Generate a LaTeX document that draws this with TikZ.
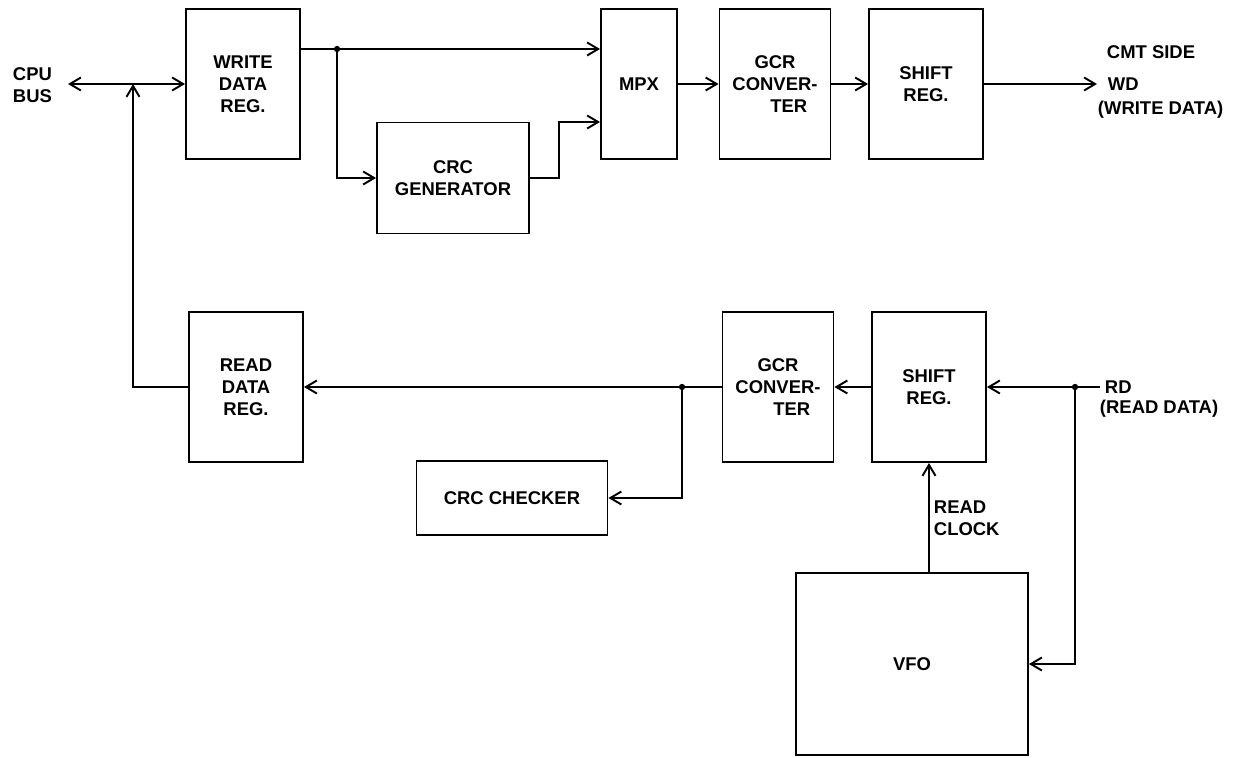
\documentclass[tikz,border=0pt]{standalone}
\usepackage{fontspec}
\setsansfont{Liberation Sans}
\usetikzlibrary{arrows.meta}

\begin{document}
\begin{tikzpicture}[x=0.02cm,y=-0.02cm,
  line width=1.1pt,
  >={Straight Barb[length=2.2mm,width=2.6mm]},
  every node/.style={font=\sffamily\bfseries\fontsize{10.5}{12.5}\selectfont},
  block/.style={draw,line width=1.1pt,align=center,inner sep=0pt},
  tall/.style={block,minimum height=3cm},
  lbl/.style={anchor=west,align=left,inner sep=0pt}]
\useasboundingbox (0,0) rectangle (1257,757);

% write side
\node[tall,minimum width=2.28cm] (wdr) at (243,84) {WRITE\\DATA\\REG.};
\node[block,minimum width=3.04cm,minimum height=2.22cm] (crcgen) at (453,178) {CRC\\GENERATOR};
\node[tall,minimum width=1.52cm] (mpx) at (639,84) {MPX};
\node[tall,minimum width=2.22cm] (gcrw) at (775,84) {GCR\\CONVER-\\\hphantom{CO}TER};
\node[tall,minimum width=2.28cm] (shw) at (926,84) {SHIFT\\REG.};

% read side
\node[tall,minimum width=2.28cm] (rdr) at (246,387) {READ\\DATA\\REG.};
\node[block,minimum width=3.82cm,minimum height=1.48cm] (crcchk) at (512,498) {CRC CHECKER};
\node[tall,minimum width=2.22cm] (gcrr) at (778,387) {GCR\\CONVER-\\\hphantom{CO}TER};
\node[tall,minimum width=2.28cm] (shr) at (929,387) {SHIFT\\REG.};
\node[block,minimum width=4.64cm,minimum height=3.64cm] (vfo) at (912,664) {VFO};

\coordinate (bus) at (68,84);
\coordinate (j1) at (133,84);
\coordinate (d1) at (337,49);
\coordinate (k1) at (559,122);
\coordinate (wd) at (1097,84);
\coordinate (rd) at (1100,387);
\coordinate (d2) at (1075,387);
\coordinate (d3) at (682,387);

\node[lbl] (cpu) at (12,85) {CPU\\BUS};
\node[lbl] (cmt) at (1106,52) {CMT SIDE};
\node[lbl] (wdl) at (1107,84) {WD};
\node[lbl] (wdl2) at (1097,110) {(WRITE DATA)};
\node[lbl] (rdl) at (1104,387) {RD};
\node[lbl] (rdl2) at (1099,409) {(READ DATA)};
\node[lbl] (clk) at (933,518) {READ\\CLOCK};

% connectors
\draw[<->] (bus) -- (wdr.west);
\draw[->] (rdr.west) -| (j1);
\draw (wdr.east |- d1) -- (d1);
\draw[->] (d1) -- (mpx.west |- d1);
\draw[->] (d1) |- (crcgen.west);
\draw[->] (crcgen.east) -| (k1) -- (mpx.west |- k1);
\draw[->] (mpx.east) -- (gcrw.west);
\draw[->] (gcrw.east) -- (shw.west);
\draw[->] (shw.east) -- (wd);

\draw (rd) -- (d2);
\draw[->] (d2) -- (shr.east);
\draw[->] (shr.west) -- (gcrr.east);
\draw[->] (gcrr.west) -- (rdr.east);
\draw[->] (d3) |- (crcchk.east);
\draw[->] (vfo.north -| shr.south) -- (shr.south);
\draw[->] (d2) |- (vfo.east);

\fill (d1) circle (1.8pt);
\fill (d2) circle (1.8pt);
\fill (d3) circle (1.8pt);
\end{tikzpicture}
\end{document}
